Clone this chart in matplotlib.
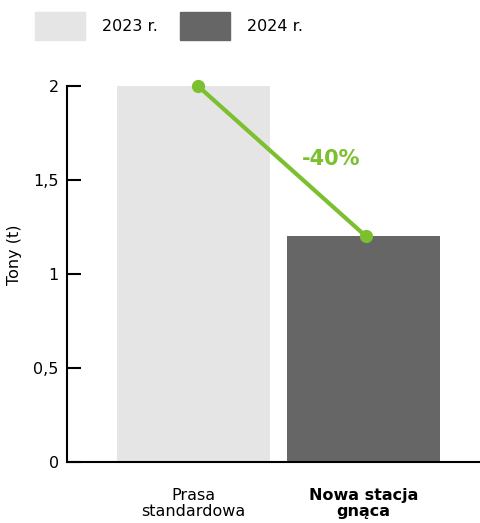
import matplotlib.pyplot as plt
from matplotlib.patches import Patch

categories = ["Prasa\nstandardowa", "Nowa stacja\ngnąca"]
tons = [2.0, 1.2]
years = ["2023 r.", "2024 r."]
bar_colors = ["#e5e5e5", "#666666"]
change_label = "-40%"
green = "#7cc02f"

plt.rcParams['font.family'] = ['DejaVu Sans']

fig = plt.figure(figsize=(4.8, 5.23), dpi=100)
ax = fig.add_axes([67 / 480, 61 / 523, 413 / 480, 376 / 523])

x = [0, 1]
ax.bar(x, tons, width=0.9, color=bar_colors, zorder=1)

# change line between the two years
ax.plot([0.026, 1.015], tons, color=green, lw=3, marker="o", ms=8.5,
        solid_capstyle="round", zorder=3, clip_on=False)
ax.text(0.81, 1.61, change_label, color=green, fontsize=15, fontweight="bold",
        ha="center", va="center")

ax.set_xlim(-0.744, 1.685)
ax.set_ylim(0, 2)
ax.set_yticks([0, 0.5, 1, 1.5, 2])
ax.set_yticklabels(["0", "0,5", "1", "1,5", "2"])
ax.set_xticks(x)
ax.set_xticklabels(categories, fontsize=11.5, linespacing=1.05)
ax.get_xticklabels()[1].set_fontweight("bold")
ax.tick_params(axis="x", length=0, pad=19)
ax.tick_params(axis="y", direction="in", length=10, width=1.5, labelsize=11.5, pad=6)

ax.spines["top"].set_visible(False)
ax.spines["right"].set_visible(False)
ax.spines["left"].set_linewidth(1.5)
ax.spines["bottom"].set_linewidth(1.5)

ax.set_ylabel("Tony (t)", fontsize=11.5, labelpad=8)
ax.yaxis.set_label_coords(-0.11, 0.55)

handles = [Patch(color=c) for c in bar_colors]
fig.legend(handles, years, loc="upper left", bbox_to_anchor=(35 / 480, 1 - 12 / 523),
           ncol=2, frameon=False, fontsize=11.5, handlelength=3.1, handleheight=2.3,
           handletextpad=1.1, columnspacing=1.4, borderpad=0, borderaxespad=0)

fig.savefig("out.png", dpi=100)
